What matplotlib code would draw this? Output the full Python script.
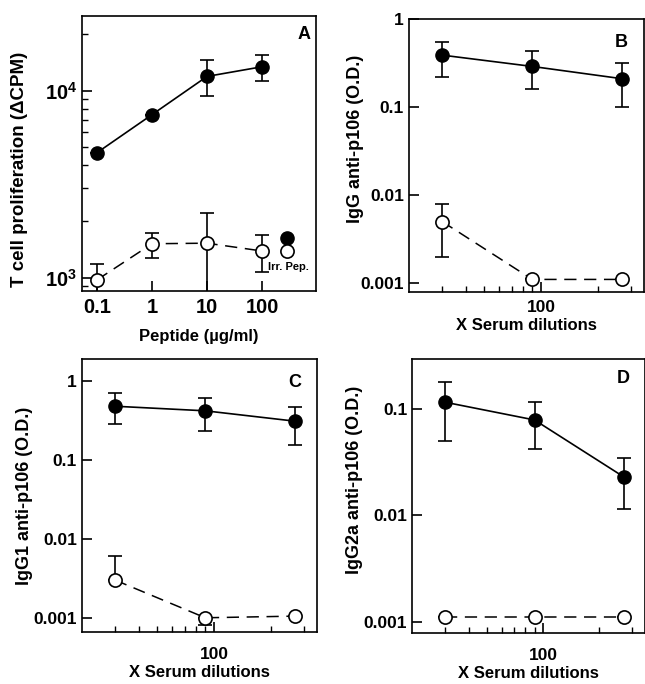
import matplotlib
matplotlib.use("Agg")
import matplotlib.pyplot as plt
from matplotlib.ticker import FixedLocator, NullFormatter, LogLocator, FixedFormatter

plt.rcParams['font.family'] = ['Liberation Sans', 'DejaVu Sans']
plt.rcParams['font.weight'] = 'bold'
plt.rcParams['axes.labelweight'] = 'bold'

# Panel A: T cell proliferation vs peptide dose
peptide = [0.1, 1, 10, 100]
a_p106 = [4660, 7440, 11900, 13400]
a_p106_lo = [4660, 7440, 9400, 11300]
a_p106_hi = [4660, 7440, 14500, 15400]
a_irr = [975, 1520, 1530, 1390]
a_irr_lo = [800, 1280, 800, 1080]
a_irr_hi = [1190, 1740, 2230, 1700]

# Panels B-D: antibody O.D. vs serum dilution
dilution = [30, 90, 270]
b_p106 = [0.39, 0.29, 0.21]
b_p106_lo = [0.22, 0.16, 0.10]
b_p106_hi = [0.55, 0.44, 0.32]
b_irr = [0.005, 0.0011, 0.0011]
b_irr_lo = [0.002, 0.0011, 0.0011]
b_irr_hi = [0.008, 0.0011, 0.0011]

c_p106 = [0.48, 0.42, 0.31]
c_p106_lo = [0.29, 0.23, 0.155]
c_p106_hi = [0.70, 0.61, 0.47]
c_irr = [0.003, 0.001, 0.00105]
c_irr_lo = [0.003, 0.0008, 0.00105]
c_irr_hi = [0.006, 0.001, 0.00105]

d_p106 = [0.116, 0.079, 0.023]
d_p106_lo = [0.050, 0.042, 0.0116]
d_p106_hi = [0.18, 0.116, 0.035]
d_irr = [0.0011, 0.0011, 0.0011]


def draw(ax, x, y, lo, hi, filled):
    yerr = [[v - l for v, l in zip(y, lo)], [h - v for v, h in zip(y, hi)]]
    if filled:
        ax.errorbar(x, y, yerr=yerr, fmt='o', color='black', ms=9.5, lw=1.2,
                    capsize=5, capthick=1.2, elinewidth=1.2, ls='-', zorder=3)
    else:
        ax.errorbar(x, y, yerr=yerr, fmt='o', color='black', mfc='white', mec='black',
                    ms=9.5, mew=1.2, lw=1.1, capsize=5, capthick=1.2, elinewidth=1.2,
                    ls=(0, (8, 5)), zorder=3)


def style(ax, tick_fs, xpad):
    ax.tick_params(which='both', direction='in', top=False, right=False, labelsize=tick_fs)
    ax.tick_params(axis='x', which='both', pad=xpad)
    ax.tick_params(which='major', length=7, width=1.2)
    ax.tick_params(which='minor', length=4.5, width=1)
    for s in ax.spines.values():
        s.set_linewidth(1.2)


fig = plt.figure(figsize=(6.45, 6.84), dpi=100)
axA = fig.add_axes([0.127, 0.575, 0.363, 0.402])
axB = fig.add_axes([0.634, 0.573, 0.364, 0.399])
axC = fig.add_axes([0.127, 0.076, 0.364, 0.399])
axD = fig.add_axes([0.639, 0.075, 0.361, 0.400])

# A
axA.set_xscale('log')
axA.set_yscale('log')
draw(axA, peptide, a_p106, a_p106_lo, a_p106_hi, True)
draw(axA, peptide, a_irr, a_irr_lo, a_irr_hi, False)
axA.set_xlim(0.053, 960)
axA.set_ylim(853, 25100)
axA.xaxis.set_major_locator(FixedLocator(peptide))
axA.xaxis.set_major_formatter(FixedFormatter(['0.1', '1', '10', '100']))
axA.xaxis.set_minor_locator(FixedLocator([]))
axA.yaxis.set_major_locator(FixedLocator([1e3, 1e4]))
axA.yaxis.set_minor_locator(LogLocator(base=10, subs=range(2, 10)))
axA.yaxis.set_minor_formatter(NullFormatter())
axA.set_xlabel('Peptide (µg/ml)', fontsize=12, labelpad=9)
axA.set_ylabel('T cell proliferation (ΔCPM)', fontsize=13.5)
axA.yaxis.set_label_coords(-0.23, 0.44)
axA.plot([0.876], [0.193], 'o', color='black', ms=9.5, transform=axA.transAxes, clip_on=False)
axA.plot([0.876], [0.145], 'o', mfc='white', mec='black', mew=1.2, ms=9.5,
         transform=axA.transAxes, clip_on=False)
axA.text(0.795, 0.088, 'Irr. Pep.', fontsize=8, transform=axA.transAxes, va='center')
axA.text(0.95, 0.93, 'A', fontsize=13, fontweight='bold', transform=axA.transAxes,
         ha='center', va='center')
style(axA, 14.5, 5)

panels = [
    (axB, b_p106, b_p106_lo, b_p106_hi, b_irr, b_irr_lo, b_irr_hi,
     (0.00079, 1.0), [1, 0.1, 0.01, 0.001], 'IgG anti-p106 (O.D.)', 'B', 0.916, 6,
     (-0.19, 0.56)),
    (axC, c_p106, c_p106_lo, c_p106_hi, c_irr, c_irr_lo, c_irr_hi,
     (0.00066, 1.9), [1, 0.1, 0.01, 0.001], 'IgG1 anti-p106 (O.D.)', 'C', 0.916, 11,
     (-0.21, 0.5)),
    (axD, d_p106, d_p106_lo, d_p106_hi, d_irr, d_irr, d_irr,
     (0.00079, 0.295), [0.1, 0.01, 0.001], 'IgG2a anti-p106 (O.D.)', 'D', 0.93, 11,
     (-0.21, 0.56)),
]

for ax, fy, flo, fhi, oy, olo, ohi, ylim, yt, ylab, letter, ly, xpad, lab_xy in panels:
    ax.set_xscale('log')
    ax.set_yscale('log')
    draw(ax, dilution, fy, flo, fhi, True)
    draw(ax, dilution, oy, olo, ohi, False)
    ax.set_xlim(20, 350)
    ax.set_ylim(*ylim)
    ax.xaxis.set_major_locator(FixedLocator([100]))
    ax.xaxis.set_major_formatter(FixedFormatter(['100']))
    ax.xaxis.set_minor_locator(FixedLocator([30, 40, 50, 60, 70, 80, 90, 200, 300]))
    ax.xaxis.set_minor_formatter(NullFormatter())
    ax.yaxis.set_major_locator(FixedLocator(yt))
    ax.yaxis.set_major_formatter(FixedFormatter([str(v) for v in yt]))
    ax.yaxis.set_minor_locator(FixedLocator([]))
    ax.set_xlabel('X Serum dilutions', fontsize=12, labelpad=2)
    ax.set_ylabel(ylab, fontsize=13)
    ax.yaxis.set_label_coords(*lab_xy)
    ax.text(0.906, ly, letter, fontsize=13, fontweight='bold', transform=ax.transAxes,
            ha='center', va='center')
    style(ax, 12.5, xpad)

fig.savefig('out.png', dpi=100)
